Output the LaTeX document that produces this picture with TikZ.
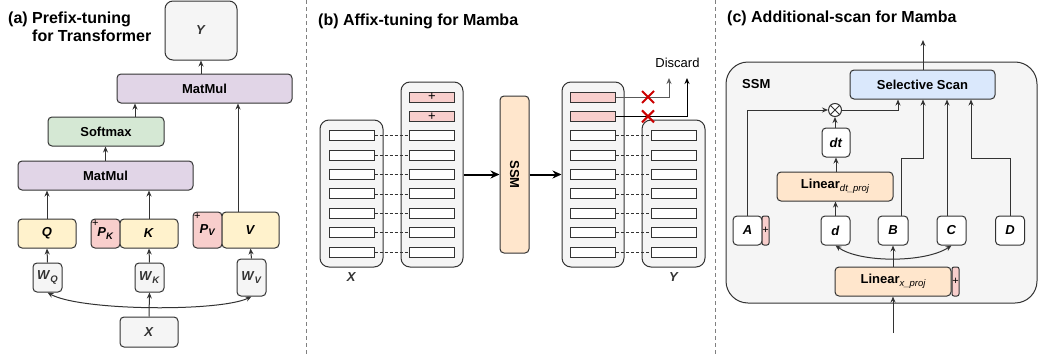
\documentclass[tikz,border=0pt]{standalone}
\usepackage{fontspec}
\setmainfont{Liberation Sans}
\usetikzlibrary{arrows.meta,calc}
\definecolor{lc}{HTML}{333333}
\definecolor{tg}{HTML}{333333}
\definecolor{cgray}{HTML}{F5F5F5}
\definecolor{cpurple}{HTML}{E1D5E7}
\definecolor{cgreen}{HTML}{D5E8D4}
\definecolor{cyellow}{HTML}{FFF2CC}
\definecolor{cpink}{HTML}{F8CECC}
\definecolor{corange}{HTML}{FFE6CC}
\definecolor{cblue}{HTML}{DAE8FC}
\definecolor{cred}{HTML}{CC0000}
\newcommand\lbl{\fontsize{13}{15}\selectfont\bfseries}
\newcommand\ttl{\fontsize{16}{18}\selectfont\bfseries}
\newcommand\subs[1]{\raisebox{-2.5pt}{\fontsize{9.5}{9.5}\selectfont #1}}
\newcommand\bi[1]{\textbf{\textit{#1}}}
\begin{document}
\begin{tikzpicture}[x=1pt,y=-1pt,
  box/.style={draw=lc, line width=1pt, rounded corners=4pt, inner sep=0pt, font=\lbl, align=center},
  gbox/.style={box, fill=cgray, text=tg},
  col/.style={draw=lc, line width=1pt, rounded corners=9pt, fill=cgray, inner sep=0pt},
  rowbox/.style={draw=lc, line width=1pt, fill=white, minimum width=45pt, minimum height=10pt, inner sep=0pt},
  pinkrow/.style={rowbox, fill=cpink, font=\fontsize{13}{13}\selectfont},
  strip/.style={draw=lc, line width=1pt, rounded corners=2pt, fill=cpink, inner sep=0pt, minimum width=7pt, minimum height=29pt, font=\fontsize{11}{11}\selectfont},
  arr/.style={draw=lc, line width=1pt, -{Stealth[length=6pt,width=5pt]}},
  arrb/.style={draw=lc, line width=1pt, {Stealth[length=6pt,width=5pt]}-{Stealth[length=6pt,width=5pt]}},
  tarr/.style={draw=black, line width=2pt, -{Stealth[length=9pt,width=8pt]}},
  dotline/.style={draw=lc, line width=0.7pt, densely dashed},
  divider/.style={draw=gray, line width=1pt, dash pattern=on 4pt off 3pt},
  redx/.style={draw=cred, line width=2pt},
  plab/.style={font=\lbl, text=tg}
]
\fill[white] (0,0) rectangle (1039,356);
\useasboundingbox (0,0) rectangle (1039,356);

% dividers
\draw[divider] (306,0) -- (306,356);
\draw[divider] (715,0) -- (715,356);

% ---------------- panel (a)
\node[anchor=north west, align=left, inner sep=0pt, font=\ttl] (ta) at (8,11.5) {(a)~Prefix-tuning\\\hphantom{(a)~}for Transformer};
\node[gbox, rounded corners=8pt, minimum width=72pt, minimum height=59pt] (Y) at (201,30.5) {\bi{Y}};
\node[box, fill=cpurple, minimum width=175pt, minimum height=29pt] (MM2) at (204.5,88.5) {MatMul};
\node[box, fill=cgreen, minimum width=116pt, minimum height=29pt] (SM) at (106,131.5) {Softmax};
\node[box, fill=cpurple, minimum width=175pt, minimum height=29pt] (MM1) at (105.5,175.5) {MatMul};
\node[box, fill=cyellow, minimum width=58pt, minimum height=29pt] (Q) at (47,233.5) {\bi{Q}};
\node[box, fill=cpink, minimum width=29pt, minimum height=29pt,
  label={[anchor=north west, inner sep=1.5pt, font=\fontsize{11}{11}\selectfont]north west:+}] (PK) at (105.5,233.5) {\bi{P}\subs{\bi{K}}};
\node[box, fill=cyellow, minimum width=58pt, minimum height=29pt] (K) at (149,233.5) {\bi{K}};
\node[box, fill=cpink, minimum width=29pt, minimum height=36pt,
  label={[anchor=north west, inner sep=1.5pt, font=\fontsize{11}{11}\selectfont]north west:+}] (PV) at (207.5,230) {\bi{P}\subs{\bi{V}}};
\node[box, fill=cyellow, minimum width=57pt, minimum height=36pt] (V) at (250.5,230) {\bi{V}};
\node[gbox, minimum width=29pt, minimum height=29pt] (WQ) at (47.5,277.5) {\bi{W}\subs{\bi{Q}}};
\node[gbox, minimum width=29pt, minimum height=29pt] (WK) at (149.5,277.5) {\bi{W}\subs{\bi{K}}};
\node[gbox, minimum width=29pt, minimum height=37pt] (WV) at (251.5,277.5) {\bi{W}\subs{\bi{V}}};
\node[gbox, minimum width=58pt, minimum height=30pt] (X) at (149,332) {\bi{X}};

\draw[arr] (WQ.north) -- (Q.south);
\draw[arr] (WK.north) -- (K.south);
\draw[arr] (WV.north) -- (V.south);
\draw[arr] (X.north) -- (WK.south);
\draw[arrb] (WQ.south) .. controls (80,311) and (220,312) .. (WV.south);
\draw[arr] (Q.north) -- (Q.north |- MM1.south);
\draw[arr] (K.north) -- (K.north |- MM1.south);
\draw[arr] (MM1.north) -- (MM1.north |- SM.south);
\draw[arr] ([xshift=29pt]SM.north) -- ([xshift=29pt]SM.north |- MM2.south);
\draw[arr] ([xshift=-12.5pt]V.north) -- ([xshift=-12.5pt]V.north |- MM2.south);
\draw[arr] (Y.south |- MM2.north) -- (Y.south);

% ---------------- panel (b)
\node[anchor=base west, inner sep=0pt, font=\ttl] (tb) at (318,25) {(b) Affix-tuning for Mamba};
\node[col, minimum width=63pt, minimum height=147pt] (colX) at (351.5,193.5) {};
\node[col, minimum width=62pt, minimum height=185pt] (col2) at (432,174.5) {};
\node[col, minimum width=62pt, minimum height=185pt] (col3) at (593,174.5) {};
\node[col, minimum width=63pt, minimum height=147pt] (colY) at (673.5,193.5) {};
\node[box, fill=corange, minimum width=29pt, minimum height=157pt] (ssmb) at (514.5,174.5) {\rotatebox{-90}{SSM}};

\foreach \i in {0,1} {
  \node[pinkrow] (c2r\i) at (432,{97+19.375*\i}) {+};
  \node[pinkrow] (c3r\i) at (593,{97+19.375*\i}) {};
}
\foreach \i in {2,...,8} {
  \node[rowbox] (c2r\i) at (432,{97+19.375*\i}) {};
  \node[rowbox] (c3r\i) at (593,{97+19.375*\i}) {};
}
\foreach \i in {0,...,6} {
  \node[rowbox] (cxr\i) at (351.5,{135.75+19.375*\i}) {};
  \node[rowbox] (cyr\i) at (674,{135.75+19.375*\i}) {};
}
\foreach \i [evaluate=\i as \j using {int(\i+2)}] in {0,...,6} {
  \draw[dotline] (cxr\i.east) -- (c2r\j.west);
  \draw[dotline] (c3r\j.east) -- (cyr\i.west);
}
\draw[tarr] (col2.east) -- (ssmb.west);
\draw[tarr] (ssmb.east) -- (col3.west);

\coordinate (dA) at (669,78);
\coordinate (dB) at (687,78);
\draw[arr, draw=black!65] (c3r0.east) -| (dA);
\draw[arr, draw=black] (c3r1.east) -| (dB);
\foreach \y in {97,116.4} {
  \draw[redx] (642,\y-6) -- (654,\y+6) (642,\y+6) -- (654,\y-6);
}
\node[font=\fontsize{13}{15}\selectfont, inner sep=0pt] (disc) at (677.5,63) {Discard};
\node[plab] (xlab) at (351.5,277) {\bi{X}};
\node[plab] (ylab) at (674,277) {\bi{Y}};

% ---------------- panel (c)
\node[anchor=base west, inner sep=0pt, font=\ttl] (tc) at (727,22) {(c) Additional-scan for Mamba};
\node[box, fill=cgray, rounded corners=22pt, minimum width=311pt, minimum height=241pt] (ssmc) at (881.5,182.5) {};
\node[font=\lbl, anchor=west, inner sep=0pt] (ssmlab) at (742,84) {SSM};
\node[box, fill=cblue, minimum width=145pt, minimum height=29pt] (scan) at (922.5,84.5) {Selective Scan};
\coordinate (out) at (923,40);
\draw[arr] (scan.north -| out) -- (out);

\node[circle, draw=lc, line width=1pt, fill=white, minimum size=13pt, inner sep=0pt] (mul) at (835,110) {};
\draw[lc, line width=1pt] (mul.north west) -- (mul.south east) (mul.north east) -- (mul.south west);
\node[box, fill=white, minimum width=28pt, minimum height=29pt] (dt) at (836,142.5) {\bi{dt}};
\node[box, fill=corange, minimum width=116pt, minimum height=29pt] (Ldt) at (835,186.5) {Linear\subs{\mdseries\itshape dt\_proj}};
\node[box, fill=white, minimum width=29pt, minimum height=29pt] (A) at (747.5,230.5) {\bi{A}};
\node[strip] (Ast) at (765.5,230.5) {+};
\node[box, fill=white, minimum width=29pt, minimum height=29pt] (d) at (835.5,230.5) {\bi{d}};
\node[box, fill=white, minimum width=30pt, minimum height=29pt] (B) at (893,230.5) {\bi{B}};
\node[box, fill=white, minimum width=29pt, minimum height=29pt] (C) at (951.5,230.5) {\bi{C}};
\node[box, fill=white, minimum width=29pt, minimum height=29pt] (D) at (1010,230.5) {\bi{D}};
\node[box, fill=corange, minimum width=116pt, minimum height=29pt] (Lx) at (893,281.5) {Linear\subs{\mdseries\itshape x\_proj}};
\node[strip] (Lxst) at (955.5,281.5) {+};

\coordinate (in) at (893,333);
\draw[arr] (in) -- (Lx.south);
\draw[arr] (Lx.north) -- (B.south);
\draw[arrb] (d.south) .. controls (860,263) and (925,263) .. (C.south);
\draw[arr] (d.north) -- (d.north |- Ldt.south);
\draw[arr] (dt.south |- Ldt.north) -- (dt.south);
\draw[arr] (mul.south |- dt.north) -- (mul.south);
\draw[arr] (A.north) |- (mul.west);
\draw[arr] (mul.east) -| ($(scan.south)+(-24.5,0)$);
\coordinate (jB) at (923,158);
\draw[arr] ([xshift=8pt]B.north) |- (jB) -- (jB |- scan.south);
\draw[arr] ([xshift=-4.5pt]C.north) -- ([xshift=-4.5pt]C.north |- scan.south);
\coordinate (jD) at (971,158);
\draw[arr] (D.north) |- (jD) -- (jD |- scan.south);
\end{tikzpicture}
\end{document}
